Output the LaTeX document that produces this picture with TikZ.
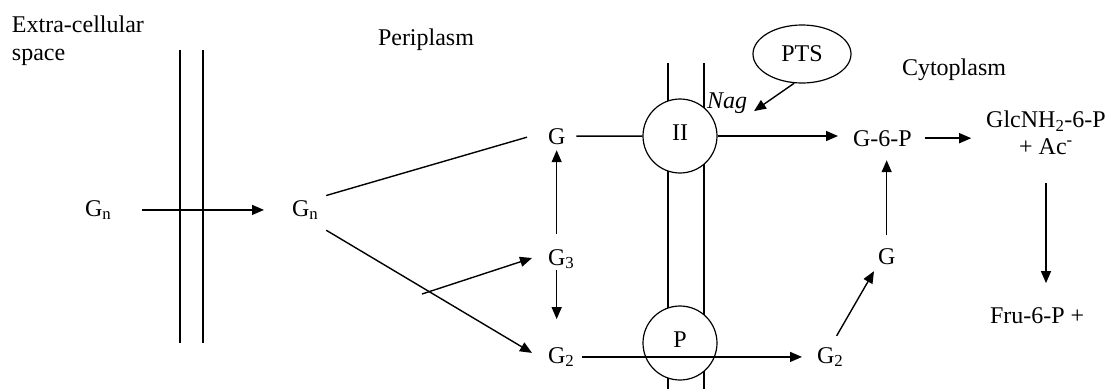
\documentclass[tikz,border=0pt]{standalone}
\usepackage{fontspec}
\setmainfont{Liberation Serif}
\usetikzlibrary{arrows.meta,shapes.geometric}
\begin{document}
\begin{tikzpicture}[x=1pt,y=-1pt,
  txt/.style={font=\fontsize{24}{28}\selectfont, inner sep=0pt, outer sep=0pt, anchor=base west},
  ctxt/.style={txt, anchor=base},
  arr/.style={line width=1.4pt, -{Triangle[length=12pt,width=10pt]}},
  ln/.style={line width=1.4pt},
  mem/.style={line width=1.2pt},
  carrier/.style={circle, draw, line width=1.2pt, fill=white, minimum size=74pt, inner sep=0pt},
  pool/.style={ellipse, draw, line width=1.2pt, minimum width=98pt, minimum height=58pt, inner sep=0pt, font=\fontsize{24}{28}\selectfont}]
\useasboundingbox (0,0) rectangle (1119,389);

% membranes
\draw[mem] (180,50) -- (180,343);
\draw[mem] (203,50) -- (203,343);
\draw[mem] (668,63) -- (668,389);
\draw[mem] (704,63) -- (704,389);

% region labels
\node[txt] (ext1) at (12,32) {Extra-cellular};
\node[txt] (ext2) at (12,60) {space};
\node[txt] (peri) at (378,45) {Periplasm};
\node[txt] (cyto) at (902,75) {Cytoplasm};

% species
\node[txt] (gn1) at (85,216) {G\textsubscript{n}};
\node[txt] (gn2) at (292,216) {G\textsubscript{n}};
\node[txt] (gt) at (548,144) {G};
\node[txt] (g3) at (548,265) {G\textsubscript{3}};
\node[txt] (g2) at (548,363) {G\textsubscript{2}};
\node[txt] (g2r) at (817,363) {G\textsubscript{2}};
\node[txt] (gr) at (878,264) {G};
\node[txt] (g6p) at (853,146) {G-6-P};
\node[txt, anchor=north, align=center, font=\fontsize{24}{27}\selectfont] (glc) at (1046,111) {\lineskiplimit=-30pt\relax GlcNH\textsubscript{2}-6-P\\+ Ac\textsuperscript{-}};
\node[txt] (fru) at (990,323) {Fru-6-P +};

% carriers
\node[carrier] (cII) at (680,136) {};
\node[ctxt] (tII) at (680,140) {II};
\node[carrier] (cP) at (680,343) {};
\node[ctxt] (tP) at (680,347) {P};
\node[pool] (pts) at (802,54) {PTS};
\node[txt] (nag) at (707,108) {\itshape Nag};

% connectors
\draw[arr, shorten <=31pt, shorten >=28pt] (gn1.east) -- (gn2.west);
\draw[ln] ([shift={(8,-4.6)}]gn2.north east) -- ([shift={(-21,1)}]gt.west);
\draw[arr] ([shift={(8,10.5)}]gn2.south east) -- ([shift={(-16,-4)}]g2.west);
\coordinate (br) at (422,294);
\draw[arr] (br) -- ([shift={(-16,-1)}]g3.west);
\draw[arr, shorten <=15pt, shorten >=6pt] (gt.south |- g3.north) -- (gt.south);
\draw[arr, shorten <=1pt, shorten >=28pt] (gt.south |- g3.south) -- (gt.south |- g2.north);
\draw[ln, shorten <=11pt] (gt.east) -- (cII);
\draw[arr, shorten >=15pt] (cII.east) -- (cII.east -| g6p.west);
\draw[arr, shorten <=13pt, shorten >=15pt] (g6p.east) -- (g6p.east -| glc.west);
\draw[arr, shorten <=28pt, shorten >=24pt] (glc.south) -- (glc.south |- fru.north);
\draw[arr, shorten <=13pt, shorten >=14pt] (gr.north) -- (gr.north |- g6p.south);
\draw[arr, shorten <=13pt, shorten >=8pt] (g2r.north) -- (gr.south west);
\draw[arr, shorten <=8pt, shorten >=15pt] (g2.east) -- (g2r.west);
\draw[arr] (pts.255) -- ([shift={(7,-2)}]nag.south east);
\end{tikzpicture}
\end{document}
